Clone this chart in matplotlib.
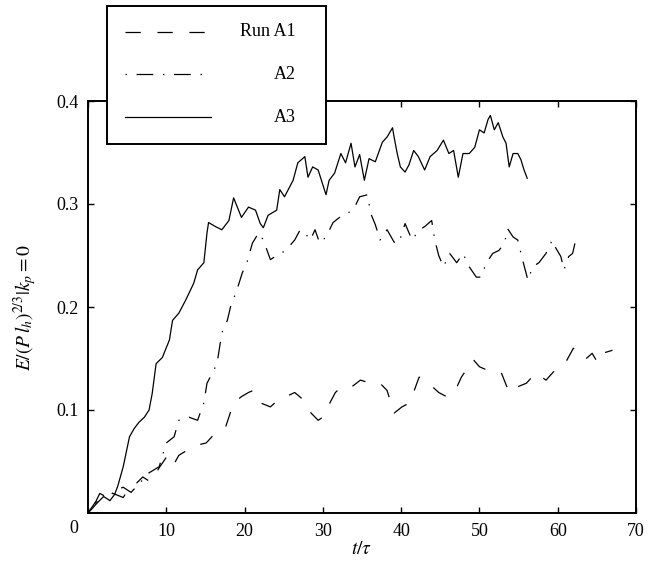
import matplotlib
matplotlib.use('Agg')
import matplotlib.pyplot as plt
from matplotlib.lines import Line2D
from matplotlib.patches import Rectangle

plt.rcParams['font.family'] = ['Liberation Serif', 'DejaVu Serif']
plt.rcParams['mathtext.fontset'] = 'stix'
plt.rcParams['lines.scale_dashes'] = False

# run A1 (dashed)
t_a1 = [0, 0.9, 2.0, 3.2, 4.5, 5.3, 6.2, 7.0, 8.0, 9.1, 10.0, 10.8, 11.6, 12.9, 14.0,
        15.1, 16.3, 17.6, 18.6, 19.6, 20.5, 21.1, 22.0, 23.3, 24.3, 25.3, 26.4, 27.5,
        28.5, 29.4, 30.0, 30.9, 31.6, 32.3, 33.6, 34.8, 36.1, 37.3, 38.2, 39.1, 40.1,
        41.1, 42.3, 43.5, 44.8, 45.8, 46.8, 47.7, 48.6, 49.2, 50.0, 50.9, 51.9, 52.8,
        53.8, 54.7, 56.0, 57.2, 58.5, 59.7, 61.0, 62.0, 62.7, 63.5, 64.4, 65.1, 65.7, 67.0]
e_a1 = [0, 0.010, 0.014, 0.019, 0.015, 0.025, 0.029, 0.035, 0.030, 0.044, 0.054, 0.045,
        0.056, 0.062, 0.066, 0.068, 0.078, 0.084, 0.107, 0.113, 0.117, 0.119, 0.107,
        0.103, 0.110, 0.113, 0.117, 0.110, 0.097, 0.090, 0.093, 0.107, 0.117, 0.122,
        0.122, 0.129, 0.126, 0.126, 0.119, 0.097, 0.103, 0.107, 0.132, 0.126, 0.117,
        0.113, 0.117, 0.132, 0.142, 0.149, 0.142, 0.139, 0.136, 0.136, 0.117, 0.122,
        0.126, 0.136, 0.129, 0.139, 0.146, 0.160, 0.155, 0.149, 0.155, 0.146, 0.155, 0.158]

# run A2 (dash-dot)
t_a2 = [0, 0.8, 1.5, 2.5, 3.5, 4.5, 5.5, 6.6, 7.8, 9.1, 10.0, 11.0, 11.6, 12.9, 14.0,
        14.8, 15.2, 16.1, 16.5, 17.1, 17.8, 18.2, 19.0, 19.7, 20.3, 21.0, 21.8, 22.4,
        23.3, 23.9, 24.7, 25.6, 26.4, 27.1, 27.7, 28.4, 29.0, 29.6, 30.4, 31.3, 32.3,
        33.2, 34.0, 34.7, 35.7, 36.1, 36.7, 37.3, 38.2, 39.1, 39.7, 40.5, 41.4, 42.3,
        43.0, 43.9, 44.3, 44.8, 45.4, 46.2, 47.1, 47.9, 48.7, 49.6, 50.2, 50.9, 51.7,
        52.5, 53.2, 53.6, 54.3, 54.9, 55.5, 56.2, 56.8, 57.6, 58.5, 59.3, 59.7, 60.4,
        60.8, 61.4, 61.9, 62.3]
e_a2 = [0, 0.008, 0.019, 0.015, 0.022, 0.025, 0.020, 0.029, 0.039, 0.045, 0.068, 0.074,
        0.090, 0.093, 0.090, 0.107, 0.126, 0.139, 0.146, 0.175, 0.187, 0.200, 0.216,
        0.233, 0.243, 0.262, 0.272, 0.265, 0.246, 0.249, 0.252, 0.258, 0.265, 0.275,
        0.272, 0.265, 0.275, 0.262, 0.268, 0.282, 0.288, 0.291, 0.296, 0.307, 0.309,
        0.291, 0.280, 0.265, 0.275, 0.263, 0.262, 0.281, 0.265, 0.275, 0.278, 0.284,
        0.265, 0.250, 0.239, 0.252, 0.243, 0.252, 0.239, 0.229, 0.229, 0.243, 0.252,
        0.255, 0.262, 0.276, 0.268, 0.265, 0.246, 0.226, 0.239, 0.243, 0.252, 0.265,
        0.258, 0.249, 0.236, 0.249, 0.252, 0.265]

# run A3 (solid)
t_a3 = [0, 0.5, 1.2, 2.0, 2.8, 3.4, 3.8, 4.5, 5.3, 5.9, 6.5, 7.2, 7.8, 8.2, 8.7, 9.5,
        10.4, 10.8, 11.6, 12.5, 13.5, 14.0, 14.8, 15.2, 15.4, 16.3, 17.1, 18.0, 18.6,
        19.6, 20.5, 21.4, 22.0, 22.4, 23.0, 24.1, 24.5, 25.1, 26.2, 26.8, 27.7, 28.1,
        28.7, 29.4, 30.4, 30.8, 31.5, 32.3, 32.9, 33.6, 34.1, 34.7, 35.3, 35.9, 36.7,
        37.6, 38.2, 38.9, 39.1, 39.5, 39.9, 40.5, 41.0, 41.6, 42.2, 43.0, 43.7, 44.6,
        45.4, 46.1, 46.7, 47.3, 47.9, 48.7, 49.4, 50.0, 50.6, 51.1, 51.4, 51.9, 52.4,
        53.0, 53.4, 53.8, 54.3, 54.9, 55.3, 55.7, 56.1]
e_a3 = [0, 0.004, 0.010, 0.016, 0.012, 0.018, 0.026, 0.045, 0.074, 0.082, 0.088, 0.093,
        0.100, 0.116, 0.145, 0.151, 0.168, 0.187, 0.194, 0.207, 0.223, 0.236, 0.243,
        0.272, 0.282, 0.278, 0.275, 0.284, 0.306, 0.287, 0.297, 0.294, 0.281, 0.277,
        0.289, 0.294, 0.314, 0.307, 0.323, 0.340, 0.346, 0.326, 0.336, 0.333, 0.309,
        0.323, 0.330, 0.349, 0.340, 0.359, 0.336, 0.348, 0.323, 0.344, 0.341, 0.360,
        0.365, 0.374, 0.365, 0.349, 0.336, 0.331, 0.338, 0.352, 0.346, 0.333, 0.346,
        0.352, 0.362, 0.349, 0.352, 0.326, 0.349, 0.349, 0.355, 0.372, 0.369, 0.382,
        0.386, 0.372, 0.379, 0.365, 0.359, 0.336, 0.349, 0.349, 0.343, 0.333, 0.325]

labels = ['Run A1', 'A2', 'A3']
dash_a1 = (11, 12)
dash_a2 = (1, 7, 12, 7)

fig = plt.figure(figsize=(6.51, 5.74), dpi=100)
ax = fig.add_axes([88 / 651, 61 / 574, 548 / 651, 412 / 574])

ax.plot(t_a1, e_a1, color='black', lw=0.9, dashes=dash_a1)
ax.plot(t_a2, e_a2, color='black', lw=0.9, dashes=dash_a2)
ax.plot(t_a3, e_a3, color='black', lw=0.9)

ax.set_xlim(0, 70)
ax.set_ylim(0, 0.4)
ax.set_xticks(range(0, 71, 10))
ax.set_xticklabels([''] + [str(v) for v in range(10, 71, 10)])
ax.set_yticks([0.1, 0.2, 0.3, 0.4])
ax.set_yticklabels(['0.1', '0.2', '0.3', '0.4'])
ax.tick_params(direction='in', length=4, width=1, top=True, right=True,
               labelsize=13, pad=7)
for s in ax.spines.values():
    s.set_linewidth(1.4)
ax.annotate('0', xy=(0, 0), xycoords=('data', 'axes fraction'), xytext=(-14, -7),
            textcoords='offset pixels', ha='center', va='top', fontsize=13)

ax.set_xlabel(r'$t/\tau$', fontsize=14, labelpad=1)
ax.set_ylabel(r'$E/(P\,l_h)^{2/3}|k_p = 0$', fontsize=14, labelpad=12)

# legend box drawn by hand (text is right aligned in the original)
W, H = 651, 574
fig.add_artist(Rectangle((107 / W, 1 - 144 / H), (326 - 107) / W, (144 - 6) / H,
                         transform=fig.transFigure, facecolor='white',
                         edgecolor='black', lw=1.4, zorder=5))
rows = [32, 74, 117]
styles = [dict(dashes=dash_a1), dict(dashes=dash_a2), dict()]
for y, lab, st in zip(rows, labels, styles):
    fig.add_artist(Line2D([125 / W, 211 / W], [1 - y / H, 1 - y / H],
                          transform=fig.transFigure, color='black', lw=0.9,
                          zorder=6, **st))
    fig.text(296 / W, 1 - y / H, lab, ha='right', va='center', fontsize=13, zorder=6)

fig.savefig('out.png', dpi=100)
